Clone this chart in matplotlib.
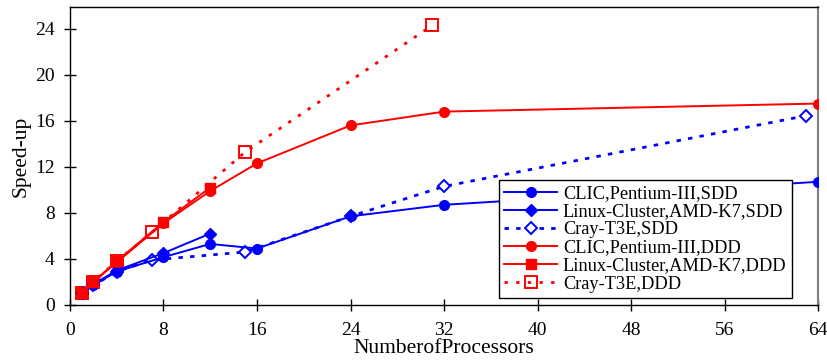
import numpy as np
import matplotlib
matplotlib.use("Agg")
import matplotlib.pyplot as plt

plt.rcParams['font.family'] = ['Liberation Serif', 'DejaVu Serif']

# speed-up measurements
clic_sdd_x = [1, 2, 4, 8, 12, 16, 24, 32, 64]
clic_sdd_y = [1.0, 1.7, 2.9, 4.15, 5.3, 4.9, 7.7, 8.7, 10.7]

linux_sdd_x = [1, 2, 4, 8, 12]
linux_sdd_y = [1.0, 1.8, 3.0, 4.5, 6.2]

cray_sdd_x = [1, 2, 4, 7, 15, 24, 32, 63]
cray_sdd_y = [1.0, 1.7, 2.9, 3.9, 4.6, 7.7, 10.3, 16.45]

clic_ddd_x = [1, 2, 4, 8, 12, 16, 24, 32, 64]
clic_ddd_y = [1.0, 2.0, 3.7, 7.1, 9.9, 12.3, 15.6, 16.8, 17.5]

linux_ddd_x = [1, 2, 4, 8, 12]
linux_ddd_y = [1.0, 2.0, 3.8, 7.2, 10.2]

cray_ddd_x = [1, 2, 4, 7, 15, 31]
cray_ddd_y = [1.0, 2.0, 3.8, 6.3, 13.3, 24.3]

labels = ['CLIC,Pentium-III,SDD', 'Linux-Cluster,AMD-K7,SDD', 'Cray-T3E,SDD',
          'CLIC,Pentium-III,DDD', 'Linux-Cluster,AMD-K7,DDD', 'Cray-T3E,DDD']

blue = '#0000ff'
red = '#ff0000'
dot_b = (0, (1.6, 2.6))
dot_r = (0, (1.2, 3.0))

fig = plt.figure(figsize=(8.28, 3.63), dpi=100)
ax = fig.add_axes([0.0845, 0.160, 0.9035, 0.821])

ax.plot(clic_sdd_x, clic_sdd_y, '-', color=blue, marker='o', ms=7, lw=1.4,
        label=labels[0], zorder=3)
ax.plot(linux_sdd_x, linux_sdd_y, '-', color=blue, marker='D', ms=6.5, lw=1.4,
        label=labels[1], zorder=3)
ax.plot(cray_sdd_x, cray_sdd_y, linestyle=dot_b, color=blue, marker='D', ms=6.5,
        mfc='white', mew=1.4, lw=2, label=labels[2], zorder=2)
ax.plot(clic_ddd_x, clic_ddd_y, '-', color=red, marker='o', ms=7, lw=1.4,
        label=labels[3], zorder=3)
ax.plot(linux_ddd_x, linux_ddd_y, '-', color=red, marker='s', ms=7, lw=1.4,
        label=labels[4], zorder=4)
ax.plot(cray_ddd_x, cray_ddd_y, linestyle=dot_r, color=red, marker='s', ms=8,
        mfc='none', mew=1.4, lw=2, label=labels[5], zorder=2)

ax.set_xlim(0, 64)
ax.set_ylim(0, 25.9)
ax.set_xticks(np.arange(0, 65, 8))
ax.set_yticks(np.arange(0, 25, 4))
ax.tick_params(direction='inout', length=8, width=1, labelsize=14)
ax.tick_params(axis='x', pad=8)
ax.tick_params(axis='y', pad=7)
ax.spines['right'].set_color('#808080')
ax.spines['right'].set_linewidth(1.5)
for s in ['left', 'bottom', 'top']:
    ax.spines[s].set_linewidth(1)

ax.set_xlabel('NumberofProcessors', fontsize=15.5, labelpad=0)
ax.set_ylabel('Speed-up', fontsize=15.5, labelpad=3)

leg = ax.legend(loc='lower right', bbox_to_anchor=(0.965, 0.023), fontsize=13.2,
                handlelength=2.9, labelspacing=0.06, borderpad=0.3,
                borderaxespad=0, handletextpad=0.3, fancybox=False, framealpha=1)
leg.get_frame().set_edgecolor('black')
leg.get_frame().set_linewidth(1)

fig.savefig('out.png', dpi=100)
